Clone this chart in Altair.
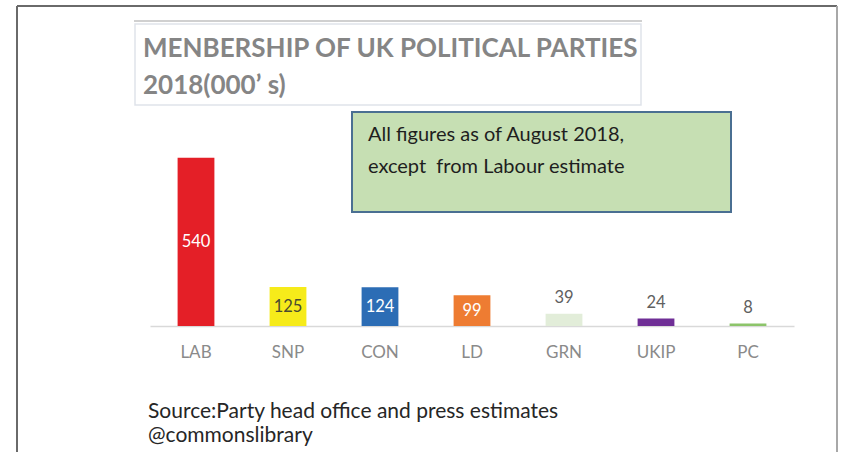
import altair as alt
import pandas as pd

parties = ["LAB", "SNP", "CON", "LD", "GRN", "UKIP", "PC"]
members = [540, 125, 124, 99, 39, 24, 8]
colors = ["#E41F27", "#F6EB1A", "#2C6DB5", "#EE7C32", "#E2EDD9", "#6F2E96", "#8CC46A"]

title_lines = ["MENBERSHIP OF UK POLITICAL PARTIES", "2018(000’ s)"]
note_lines = ["All figures as of August 2018,", "except\u00a0 from Labour estimate"]
source_lines = ["Source:Party head office and press estimates", "@commonslibrary"]

FONT = "Lato"

df = pd.DataFrame({"party": parties, "value": members})
one = pd.DataFrame({"a": [0]})

W, H = 644, 187
x_scale = alt.Scale(domain=parties, paddingInner=0.6, paddingOuter=0.3)
y_scale = alt.Scale(domain=[0, 600])

base = alt.Chart(df)

bars = base.mark_bar().encode(
    x=alt.X("party:N", scale=x_scale, sort=parties,
            axis=alt.Axis(title=None, labelAngle=0, ticks=False, tickSize=0,
                          labelPadding=18, labelFont=FONT, labelFontSize=17,
                          labelColor="#8a8a8a", domainColor="#d9d9d9",
                          domainWidth=1.5, grid=False)),
    y=alt.Y("value:Q", scale=y_scale, axis=None),
    color=alt.Color("party:N", scale=alt.Scale(domain=parties, range=colors), legend=None),
)

inside = base.transform_filter("datum.value >= 90").transform_calculate(
    mid="datum.value / 2"
).mark_text(font=FONT, fontSize=16.5, baseline="middle").encode(
    x=alt.X("party:N", scale=x_scale, sort=parties),
    y=alt.Y("mid:Q", scale=y_scale),
    text="value:Q",
    color=alt.condition("datum.party == 'SNP'", alt.value("#4a4a30"), alt.value("#ffffff")),
)

outside = base.transform_filter("datum.value < 90").mark_text(
    font=FONT, fontSize=16.5, baseline="bottom", dy=-8, color="#606060"
).encode(
    x=alt.X("party:N", scale=x_scale, sort=parties),
    y=alt.Y("value:Q", scale=y_scale),
    text="value:Q",
)

frame_top = alt.Chart(one).mark_rule(color="#6a6a6a", strokeWidth=2).encode(
    x=alt.value(-133), x2=alt.value(687), y=alt.value(-133))
frame_left = alt.Chart(one).mark_rule(color="#6a6a6a", strokeWidth=2).encode(
    x=alt.value(-133), y=alt.value(-133), y2=alt.value(320))
frame_right = alt.Chart(one).mark_rule(color="#a8a8a8", strokeWidth=2).encode(
    x=alt.value(687), y=alt.value(-133), y2=alt.value(320))

title_box = alt.Chart(one).mark_rect(fill="#ffffff", stroke="#dfe3ea", strokeWidth=1.5).encode(
    x=alt.value(-15), x2=alt.value(491), y=alt.value(-115), y2=alt.value(-34))
title_shadow = alt.Chart(one).mark_rule(color="#d0d0d0", strokeWidth=2).encode(
    x=alt.value(-16), x2=alt.value(492), y=alt.value(-118))
title_text = alt.Chart(one).mark_text(
    text=title_lines, font=FONT, fontSize=26, fontWeight="bold", color="#858585",
    align="left", baseline="middle", lineHeight=37
).encode(x=alt.value(-7), y=alt.value(-90))

note_box = alt.Chart(one).mark_rect(fill="#C6DFB3", stroke="#4A6F92", strokeWidth=2).encode(
    x=alt.value(202), x2=alt.value(581), y=alt.value(-27), y2=alt.value(73))
note_text = alt.Chart(one).mark_text(
    text=note_lines, font=FONT, fontSize=20, color="#1e1e1e",
    align="left", baseline="middle", lineHeight=32
).encode(x=alt.value(218), y=alt.value(-4))

source_text = alt.Chart(one).mark_text(
    text=source_lines, font=FONT, fontSize=21, color="#262626",
    align="left", baseline="middle", lineHeight=24
).encode(x=alt.value(-2), y=alt.value(273))

chart = alt.layer(
    frame_top, frame_left, frame_right,
    title_shadow, title_box, title_text,
    note_box, note_text,
    bars, inside, outside,
    source_text,
).properties(
    width=W, height=H,
    padding={"left": 150, "top": 139, "right": 49, "bottom": 126},
    autosize=alt.AutoSizeParams(type="none"),
    background="#ffffff",
).configure_view(stroke=None)

chart.save("out.html", embed_options={"renderer": "svg", "actions": False})
